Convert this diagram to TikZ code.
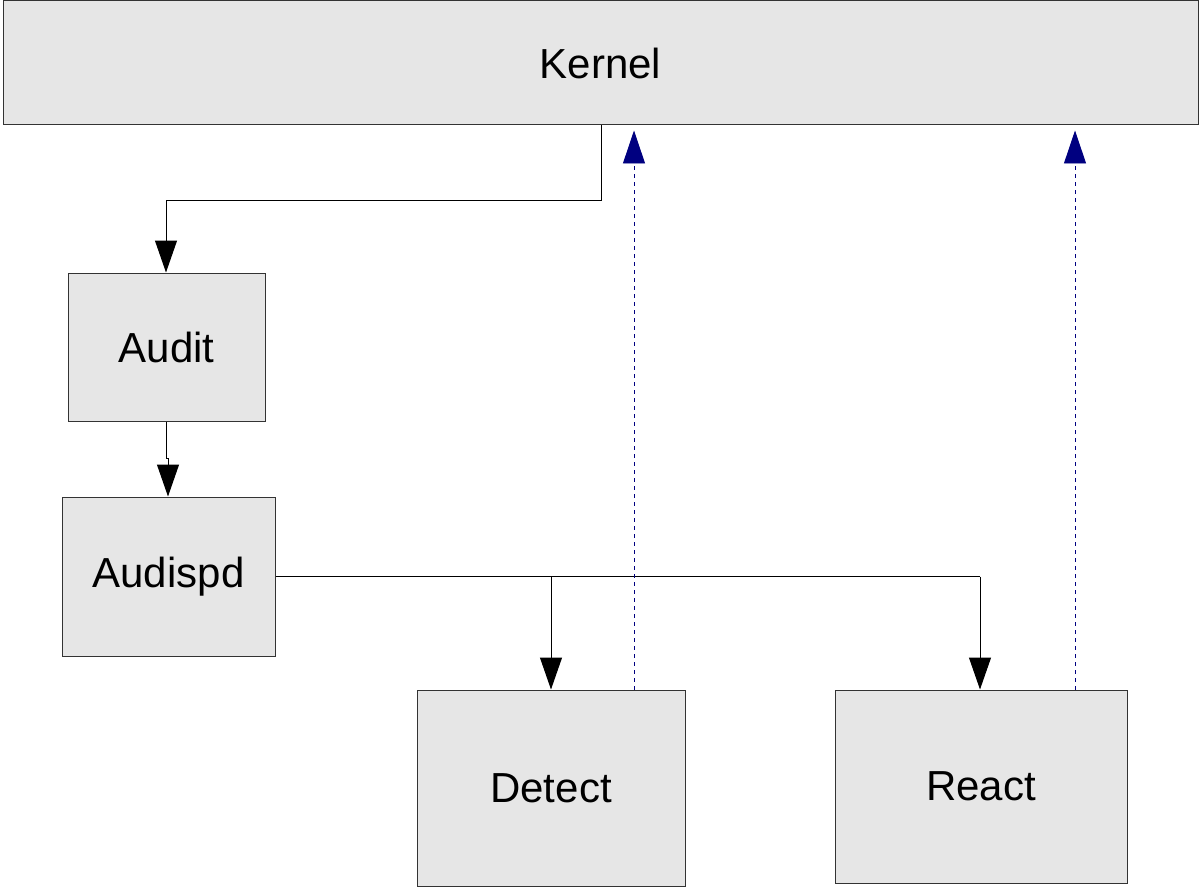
\documentclass[tikz,border=0pt]{standalone}
\usepackage{fontspec}
\setmainfont{Liberation Sans}
\usetikzlibrary{arrows.meta}
\definecolor{boxfill}{HTML}{E6E6E6}
\definecolor{boxline}{HTML}{333333}
\definecolor{navyarrow}{HTML}{000080}
\begin{document}
\begin{tikzpicture}[x=1pt,y=-1pt,
  box/.style={draw=boxline,fill=boxfill,line width=1pt,inner sep=0pt,font=\fontsize{42}{48}\selectfont},
  flow/.style={draw=black,line width=1pt,-{Triangle[length=32pt,width=22pt]}},
  ctrl/.style={draw=navyarrow,line width=0.9pt,dash pattern=on 4pt off 4pt,-{Triangle[length=33pt,width=22pt,fill=navyarrow]},shorten >=5pt}]
\useasboundingbox (0,0) rectangle (1200,888);
\node[box,minimum width=1195pt,minimum height=124pt] (kernel) at (600.5,63) {Kernel};
\node[box,minimum width=197pt,minimum height=148pt] (audit) at (166.5,347) {Audit};
\node[box,minimum width=213pt,minimum height=159pt] (audispd) at (168.5,576.5) {Audispd};
\node[box,minimum width=268pt,minimum height=196pt] (detect) at (551,788) {Detect};
\node[box,minimum width=292pt,minimum height=193pt] (react) at (981,786.5) {React};
\coordinate (k1) at (601,200);
\coordinate (j1) at (166,458);
\coordinate (j2) at (168,458);
\draw[flow] (kernel.south -| k1) -- (k1) -| (audit.north -| 166,0);
\draw[flow] (audit.south -| j1) -- (j1) -- (j2) -- (audispd.north -| j2);
\draw[line width=1pt] (audispd.east) -- (980,576.5);
\draw[flow] (audispd.east -| 551,0) -- (detect.north -| 551,0);
\draw[flow] (audispd.east -| 980,0) -- (react.north -| 980,0);
\draw[ctrl] (detect.north -| 634,0) -- (kernel.south -| 634,0);
\draw[ctrl] (react.north -| 1075,0) -- (kernel.south -| 1075,0);
\end{tikzpicture}
\end{document}
